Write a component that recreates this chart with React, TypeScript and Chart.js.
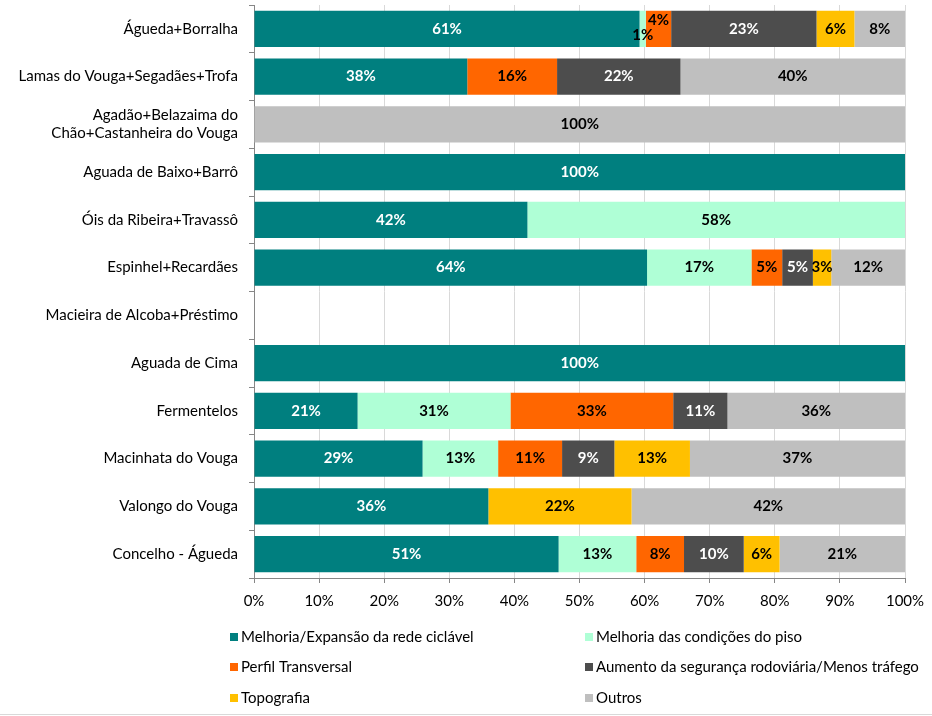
import React, { useEffect, useRef } from "react";
import { Chart, registerables } from "chart.js";

Chart.register(...registerables);

const categories: (string | string[])[] = [
  "Águeda+Borralha",
  "Lamas do Vouga+Segadães+Trofa",
  ["Agadão+Belazaima do", "Chão+Castanheira do Vouga"],
  "Aguada de Baixo+Barrô",
  "Óis da Ribeira+Travassô",
  "Espinhel+Recardães",
  "Macieira de Alcoba+Préstimo",
  "Aguada de Cima",
  "Fermentelos",
  "Macinhata do Vouga",
  "Valongo do Vouga",
  "Concelho - Águeda",
];

const seriesNames = [
  "Melhoria/Expansão da rede ciclável",
  "Melhoria das condições do piso",
  "Perfil Transversal",
  "Aumento da segurança rodoviária/Menos tráfego",
  "Topografia",
  "Outros",
];

const seriesColors = ["#007F7F", "#AFFFD6", "#FF6600", "#4D4D4D", "#FFC000", "#BFBFBF"];
const labelColors = ["#FFFFFF", "#000000", "#000000", "#FFFFFF", "#000000", "#000000"];

const melhoriaRede = [61, 38, 0, 100, 42, 64, 0, 100, 21, 29, 36, 51];
const melhoriaPiso = [1, 0, 0, 0, 58, 17, 0, 0, 31, 13, 0, 13];
const perfilTransversal = [4, 16, 0, 0, 0, 5, 0, 0, 33, 11, 0, 8];
const segurancaRodoviaria = [23, 22, 0, 0, 0, 5, 0, 0, 11, 9, 0, 10];
const topografia = [6, 0, 0, 0, 0, 3, 0, 0, 0, 13, 22, 6];
const outros = [8, 40, 100, 0, 0, 12, 0, 0, 36, 37, 42, 21];

const xTickValues = [0, 10, 20, 30, 40, 50, 60, 70, 80, 90, 100];

const seriesValues = [
  melhoriaRede,
  melhoriaPiso,
  perfilTransversal,
  segurancaRodoviaria,
  topografia,
  outros,
];

const FONT = "Lato, 'Open Sans', sans-serif";

const labelPlugin = {
  id: "segmentLabels",
  afterDatasetsDraw(chart: any) {
    const ctx = chart.ctx;
    ctx.save();
    ctx.font = `bold 15px ${FONT}`;
    ctx.textAlign = "center";
    ctx.textBaseline = "middle";
    categories.forEach((_, i) => {
      const items: any[] = [];
      seriesValues.forEach((vals, d) => {
        const raw = vals[i];
        if (!raw) return;
        const el = chart.getDatasetMeta(d).data[i];
        const cx = (el.x + el.base) / 2;
        const text = raw + "%";
        const w = ctx.measureText(text).width;
        items.push({ cx, y: el.y, text, w, color: labelColors[d], dy: 0 });
      });
      for (let k = 1; k < items.length; k++) {
        const p = items[k - 1];
        const c = items[k];
        if (p.cx + p.w / 2 > c.cx - c.w / 2 + 1) {
          p.dy = 6;
          c.dy = -9;
        }
      }
      items.forEach((it) => {
        ctx.fillStyle = it.color;
        ctx.fillText(it.text, it.cx, it.y + it.dy);
      });
    });
    ctx.restore();
  },
};

const legendPlugin = {
  id: "gridLegend",
  afterDraw(chart: any) {
    const ctx = chart.ctx;
    ctx.save();
    ctx.font = `15px ${FONT}`;
    ctx.textAlign = "left";
    ctx.textBaseline = "middle";
    const colX = [230, 585];
    const rowY = [637, 667, 698];
    seriesNames.forEach((name, idx) => {
      const col = idx % 2;
      const row = Math.floor(idx / 2);
      const x = colX[col];
      const y = rowY[row];
      ctx.fillStyle = seriesColors[idx];
      ctx.fillRect(x, y - 4, 8, 8);
      ctx.fillStyle = "#000000";
      ctx.fillText(name, x + 11, y);
    });
    ctx.strokeStyle = "#D9D9D9";
    ctx.lineWidth = 1;
    ctx.beginPath();
    ctx.moveTo(0, 714.5);
    ctx.lineTo(chart.width, 714.5);
    ctx.stroke();
    ctx.restore();
  },
};

export default function App() {
  const ref = useRef<HTMLCanvasElement | null>(null);
  useEffect(() => {
    document.body.style.margin = "0";
    const canvas = ref.current;
    if (!canvas) return;
    const totals = categories.map((_, i) =>
      seriesValues.reduce((s, vals) => s + vals[i], 0)
    );
    const chart = new Chart(canvas, {
      type: "bar",
      data: {
        labels: categories,
        datasets: seriesValues.map((vals, d) => ({
          label: seriesNames[d],
          data: vals.map((v, i) => (totals[i] ? (v / totals[i]) * 100 : 0)),
          backgroundColor: seriesColors[d],
          borderWidth: 0,
          barPercentage: 0.76,
          categoryPercentage: 1,
        })),
      },
      options: {
        indexAxis: "y",
        responsive: false,
        animation: false,
        layout: { padding: { left: 0, right: 27, top: 5, bottom: 98 } },
        plugins: {
          legend: { display: false },
          tooltip: { enabled: false },
          title: { display: false },
        },
        scales: {
          x: {
            stacked: true,
            min: 0,
            max: 100,
            afterBuildTicks(scale: any) {
              scale.ticks = xTickValues.map((v) => ({ value: v }));
            },
            afterFit(scale: any) {
              scale.height = 40;
              scale.paddingLeft = 0;
              scale.paddingRight = 0;
            },
            ticks: {
              callback: (v: any) => v + "%",
              font: { family: FONT, size: 15 },
              color: "#000000",
              padding: 9,
              maxRotation: 0,
            },
            grid: {
              color: "#D9D9D9",
              tickColor: "#868686",
              tickLength: 5,
              drawTicks: true,
            },
            border: { color: "#868686" },
          },
          y: {
            stacked: true,
            afterFit(scale: any) {
              scale.width = 254;
              scale.paddingTop = 0;
              scale.paddingBottom = 0;
            },
            ticks: {
              font: { family: FONT, size: 15 },
              color: "#000000",
              padding: 11,
              autoSkip: false,
            },
            grid: {
              offset: true,
              drawOnChartArea: false,
              tickColor: "#868686",
              tickLength: 5,
            },
            border: { color: "#868686" },
          },
        },
      },
      plugins: [labelPlugin, legendPlugin],
    } as any);
    return () => chart.destroy();
  }, []);
  return (
    <div style={{ width: 932, height: 716, position: "relative" }}>
      <canvas ref={ref} width={932} height={716} style={{ display: "block" }} />
    </div>
  );
}
